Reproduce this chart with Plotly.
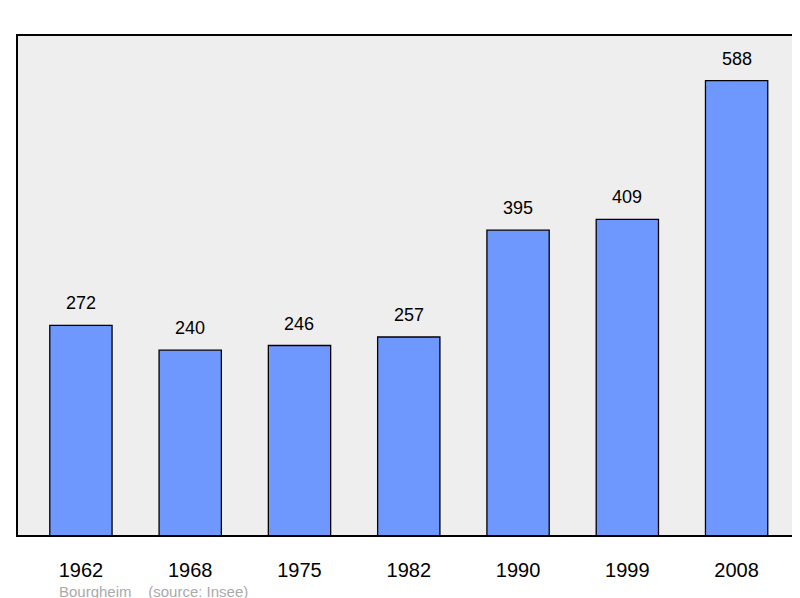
import plotly.graph_objects as go

years = ["1962", "1968", "1975", "1982", "1990", "1999", "2008"]
population = [272, 240, 246, 257, 395, 409, 588]

xs = list(range(len(years)))

fig = go.Figure(go.Bar(
    x=xs, y=population,
    width=0.57,
    marker=dict(color="#6f98ff", line=dict(color="black", width=1.3)),
))

# value labels above each bar
labels = [dict(x=x, y=v, text=str(v), xref="x", yref="y", yshift=22,
               showarrow=False, font=dict(size=18, color="black"))
          for x, v in zip(xs, population)]

fig.update_layout(
    width=800, height=598,
    margin=dict(l=9, r=8, t=27, b=70, autoexpand=False),
    paper_bgcolor="white",
    plot_bgcolor="#eeeeee",
    showlegend=False,
    font=dict(family="Liberation Sans", color="black"),
    xaxis=dict(range=[-0.585, 6.58], tickvals=xs, ticktext=years,
               tickfont=dict(size=20), showgrid=False, zeroline=False,
               ticks="outside", ticklen=16, tickcolor="rgba(0,0,0,0)",
               automargin=False, fixedrange=True),
    yaxis=dict(range=[0, 647], visible=False, showgrid=False,
               automargin=False, fixedrange=True),
    shapes=[dict(type="rect", xref="paper", yref="paper", x0=0, x1=1, y0=0, y1=1,
                 line=dict(color="black", width=2))],
    annotations=labels + [dict(text="Bourgheim &nbsp;&nbsp;&nbsp;(source: Insee)", xref="paper", yref="paper",
                      x=0.051, y=-0.111, xanchor="left", yanchor="middle", showarrow=False,
                      font=dict(size=15, color="#aaaaaa"))],
)

fig.write_html("out.html")
